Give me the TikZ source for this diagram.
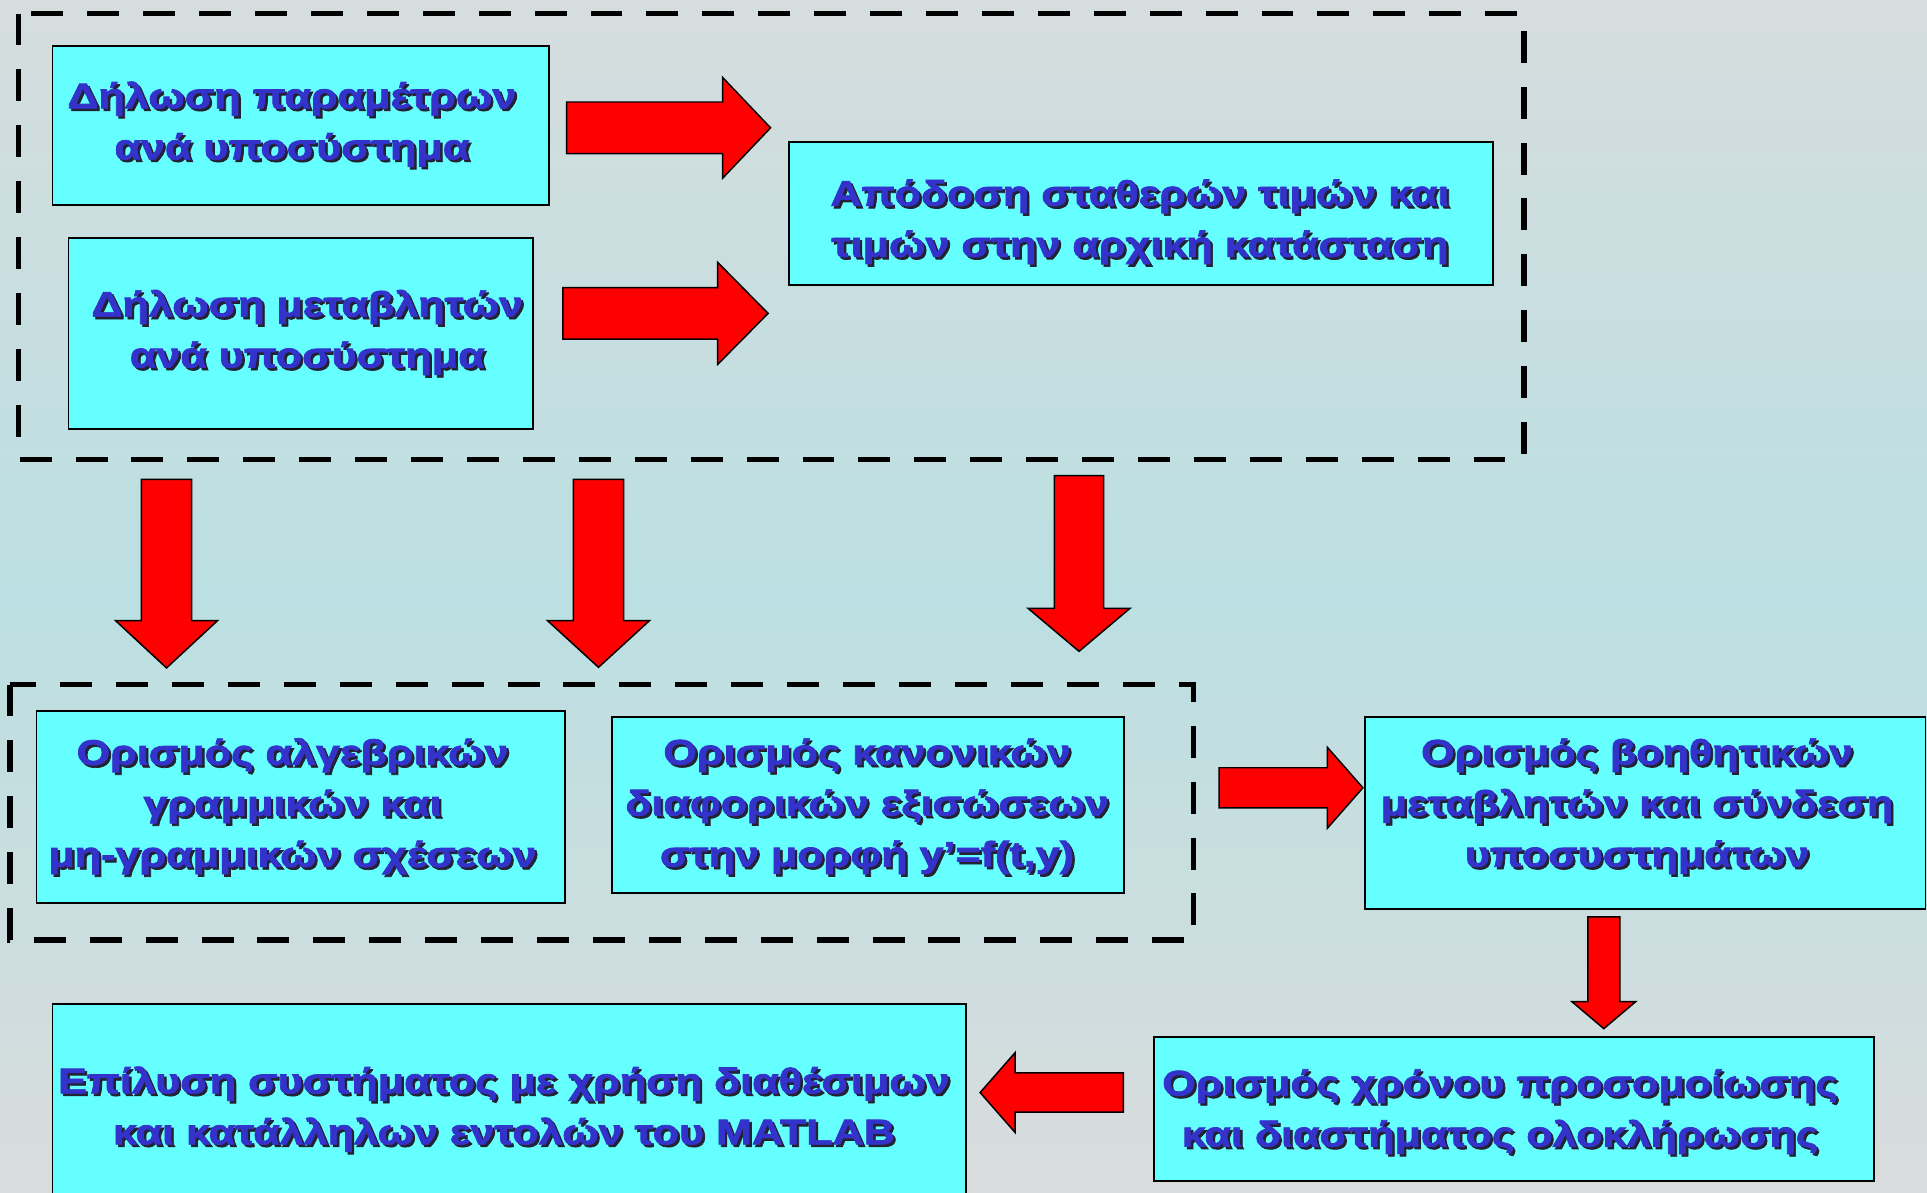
\documentclass[tikz,border=0pt]{standalone}
\usepackage{fontspec}
\setmainfont{Liberation Sans}[FakeStretch=1.21, BoldFeatures={FakeBold=2}]
\usetikzlibrary{calc}
\definecolor{bgtop}{HTML}{D6DDDE}
\definecolor{bgmid}{HTML}{BBDFE2}
\definecolor{bgbot}{HTML}{D9DCDC}
\definecolor{boxfill}{HTML}{66FFFF}
\definecolor{txtblue}{HTML}{3333CC}
\definecolor{txtshade}{HTML}{222233}
\definecolor{arrred}{HTML}{FF0000}
\tikzset{
  box/.style={draw=black, line width=1.5pt, fill=boxfill, inner sep=0pt, anchor=north west},
  txt/.style={text=txtblue, align=center, inner sep=0pt, font=\fontsize{29}{41.5}\selectfont\bfseries},
  txtsh/.style={txt, text=txtshade},
  dashbox/.style={draw=black, line width=4.5pt, dash pattern=on 26pt off 19.5pt},
  blockarr/.style={fill=arrred, draw=black, line width=1.2pt, line join=miter},
}
\newcommand\mybox[5]{\node[box, minimum width=#4pt, minimum height=#5pt] (#1) at (#2,#3) {};}
\newcommand\boxlabel[4]{%
  \node[txtsh] (#1s) at (#2+2,#3+2) {#4};
  \node[txt] (#1) at (#2,#3) {#4};}
\newcommand\blockarrow[6]{%
  \coordinate (#1b) at ($(#3)!#6pt!(#2)$);
  \filldraw[blockarr] ($(#2)!#4pt!90:(#3)$) -- ($(#1b)!#4pt!90:(#3)$) -- ($(#1b)!#5pt!90:(#3)$) -- (#3)
    -- ($(#1b)!#5pt!-90:(#3)$) -- ($(#1b)!#4pt!-90:(#3)$) -- ($(#2)!#4pt!-90:(#3)$) -- cycle;}
\begin{document}
\begin{tikzpicture}[x=1pt, y=-1pt]
\useasboundingbox (0,0) rectangle (1568,970);
\clip (0,0) rectangle (1568,970);
\shade[top color=bgtop, bottom color=bgbot, middle color=bgmid] (0,0) rectangle (1568,970);

% dashed groups
\draw[dashbox] (15,11) rectangle (1240,374);
\draw[dashbox] (8,557) rectangle (971,765);

% boxes
\mybox{bA}{42}{37}{404}{129}
\mybox{bB}{55}{193}{378}{155}
\mybox{bC}{641}{115}{573}{116}
\mybox{bD}{29}{578}{430}{156}
\mybox{bE}{497}{583}{417}{143}
\mybox{bF}{1110}{583}{456}{156}
\mybox{bG}{938}{843}{586}{117}
\mybox{bH}{42}{816}{743}{180}

% texts
\boxlabel{tA}{237.5}{101}{Δήλωση παραμέτρων\\ανά υποσύστημα}
\boxlabel{tB}{250}{270.5}{Δήλωση μεταβλητών\\ανά υποσύστημα}
\boxlabel{tC}{927.5}{180.5}{Απόδοση σταθερών τιμών και\\τιμών στην αρχική κατάσταση}
\boxlabel{tD}{238}{656}{Ορισμός αλγεβρικών\\γραμμικών και\\μη-γραμμικών σχέσεων}
\boxlabel{tE}{705.5}{656}{Ορισμός κανονικών\\διαφορικών εξισώσεων\\στην μορφή y’=f(t,y)}
\boxlabel{tF}{1332}{656}{Ορισμός βοηθητικών\\μεταβλητών και σύνδεση\\υποσυστημάτων}
\boxlabel{tG}{1220.5}{904.5}{Ορισμός χρόνου προσομοίωσης\\και διαστήματος ολοκλήρωσης}
\boxlabel{tH}{410}{902.5}{Επίλυση συστήματος με χρήση διαθέσιμων\\και κατάλληλων εντολών του MATLAB}

% arrow end points
\coordinate (r1s) at (461,104);   \coordinate (r1e) at (627,104);
\coordinate (r2s) at (458,255);   \coordinate (r2e) at (625,255);
\coordinate (d1s) at (135.5,390); \coordinate (d1e) at (135.5,543.5);
\coordinate (d2s) at (487,390);   \coordinate (d2e) at (487,543);
\coordinate (d3s) at (878,387);   \coordinate (d3e) at (878,530);
\coordinate (r3s) at (992,641);   \coordinate (r3e) at (1109,641);
\coordinate (d4s) at (1305,746);  \coordinate (d4e) at (1305,837);
\coordinate (l1s) at (914,889);   \coordinate (l1e) at (797.5,889);

\blockarrow{ar1}{r1s}{r1e}{21}{41}{39}
\blockarrow{ar2}{r2s}{r2e}{21}{41.5}{41}
\blockarrow{ad1}{d1s}{d1e}{20.5}{41.5}{38.5}
\blockarrow{ad2}{d2s}{d2e}{20.5}{41.5}{38}
\blockarrow{ad3}{d3s}{d3e}{20}{41.5}{35}
\blockarrow{ar3}{r3s}{r3e}{16.3}{33}{29}
\blockarrow{ad4}{d4s}{d4e}{13}{26}{22}
\blockarrow{al1}{l1s}{l1e}{16}{32.5}{28.5}
\end{tikzpicture}
\end{document}
